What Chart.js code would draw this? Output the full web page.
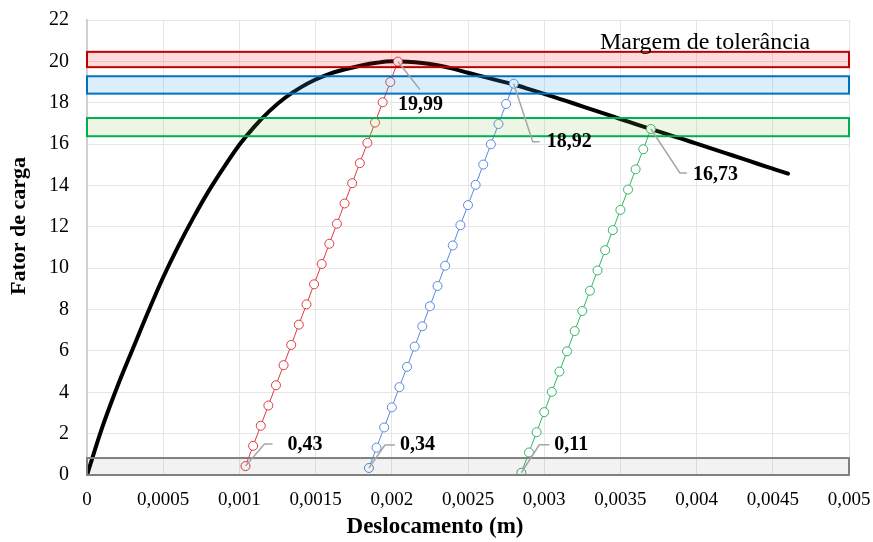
<!DOCTYPE html>
<html lang="pt">
<head>
  <meta charset="UTF-8">
  <title>Fator de carga x Deslocamento</title>
  <script src="https://cdn.jsdelivr.net/npm/chart.js@4.4.0/dist/chart.umd.min.js"></script>
  <style>
    body { margin: 0; background: #fff; }
  </style>
</head>
<body>
  <canvas id="grafico" width="873" height="542"></canvas>

  <script>
    // curva principal (preta)
    const curveX = [0, 0.0001, 0.0002, 0.0003, 0.0004, 0.0005, 0.0006, 0.0007, 0.0008, 0.0009,
      0.001, 0.0011, 0.0012, 0.0013, 0.0014, 0.0015, 0.0016, 0.0017, 0.0018, 0.0019,
      0.002, 0.0021, 0.0022, 0.0023, 0.0024, 0.0025, 0.0026, 0.0027, 0.0028, 0.0029,
      0.003, 0.0031, 0.0032, 0.0033, 0.0034, 0.0035, 0.0036, 0.0037, 0.0038, 0.0039,
      0.004, 0.0041, 0.0042, 0.0043, 0.0044, 0.0045, 0.0046];
    const curveY = [0, 2.3, 4.29, 6.09, 7.87, 9.56, 11.08, 12.47, 13.75, 14.9,
      15.97, 16.86, 17.62, 18.24, 18.73, 19.12, 19.42, 19.63, 19.8, 19.93,
      20.0, 19.98, 19.92, 19.81, 19.65, 19.45, 19.26, 19.07, 18.88, 18.66,
      18.43, 18.19, 17.95, 17.7, 17.46, 17.21, 16.97, 16.73, 16.49, 16.26,
      16.02, 15.78, 15.54, 15.3, 15.05, 14.81, 14.57];

    // descarregamentos
    const redX = [0.00104, 0.00109, 0.00114, 0.00119, 0.00124, 0.00129, 0.00134, 0.00139, 0.00144, 0.00149,
      0.00154, 0.00159, 0.00164, 0.00169, 0.00174, 0.00179, 0.00184, 0.00189, 0.00194, 0.00199, 0.00204];
    const redY = [0.43, 1.41, 2.38, 3.36, 4.34, 5.31, 6.29, 7.27, 8.25, 9.22,
      10.2, 11.18, 12.15, 13.13, 14.11, 15.08, 16.06, 17.04, 18.02, 19.0, 19.99];

    const blueX = [0.00185, 0.0019, 0.00195, 0.002, 0.00205, 0.0021, 0.00215, 0.0022, 0.00225, 0.0023,
      0.00235, 0.0024, 0.00245, 0.0025, 0.00255, 0.0026, 0.00265, 0.0027, 0.00275, 0.0028];
    const blueY = [0.34, 1.32, 2.3, 3.27, 4.25, 5.23, 6.21, 7.19, 8.16, 9.14,
      10.12, 11.1, 12.08, 13.05, 14.03, 15.01, 15.99, 16.97, 17.94, 18.92];

    const greenX = [0.00285, 0.0029, 0.00295, 0.003, 0.00305, 0.0031, 0.00315, 0.0032, 0.00325, 0.0033,
      0.00335, 0.0034, 0.00345, 0.0035, 0.00355, 0.0036, 0.00365, 0.0037];
    const greenY = [0.11, 1.09, 2.07, 3.04, 4.02, 5.0, 5.98, 6.96, 7.93, 8.91,
      9.89, 10.87, 11.84, 12.82, 13.8, 14.78, 15.75, 16.73];

    const xTickLabels = ['0', '0,0005', '0,001', '0,0015', '0,002', '0,0025', '0,003', '0,0035', '0,004', '0,0045', '0,005'];

    // faixas da margem de tolerância
    const bandLow = [19.72, 18.44, 16.38, 0];
    const bandHigh = [20.46, 19.28, 17.26, 0.82];

    const pointLabels = ['19,99', '18,92', '16,73', '0,43', '0,34', '0,11'];

    const serif = "'Liberation Serif', 'Times New Roman', serif";

    function pts(xs, ys) {
      return xs.map((x, i) => ({ x: x, y: ys[i] }));
    }

    const bandStyle = [
      { fill: 'rgba(255, 40, 50, 0.17)', line: '#c00000' },
      { fill: 'rgba(60, 170, 235, 0.19)', line: '#0070c0' },
      { fill: 'rgba(130, 190, 70, 0.14)', line: '#00b050' },
      { fill: 'rgba(0, 0, 0, 0.05)', line: '#808080' }
    ];

    const extras = {
      id: 'extras',
      afterDatasetsDraw(chart) {
        const ctx = chart.ctx;
        const xs = chart.scales.x, ys = chart.scales.y;
        ctx.save();

        // faixas
        bandLow.forEach((lo, i) => {
          const x0 = xs.getPixelForValue(0);
          const x1 = xs.getPixelForValue(0.005);
          const y0 = ys.getPixelForValue(bandHigh[i]);
          const y1 = ys.getPixelForValue(lo);
          ctx.fillStyle = bandStyle[i].fill;
          ctx.fillRect(x0, y0, x1 - x0, y1 - y0);
          ctx.strokeStyle = bandStyle[i].line;
          ctx.lineWidth = 2;
          ctx.strokeRect(x0, y0, x1 - x0, y1 - y0);
        });

        ctx.fillStyle = '#000';
        ctx.font = '24px ' + serif;
        ctx.textBaseline = 'alphabetic';
        ctx.fillText('Margem de tolerância', 600, 49);

        // rótulos com linha de chamada
        const anchors = [
          { x: redX[redX.length - 1], y: redY[redY.length - 1], dx: 22, dy: 28, h: 0, tx: 0, ty: 43 },
          { x: blueX[blueX.length - 1], y: blueY[blueY.length - 1], dx: 19, dy: 58, h: 7, tx: 7, ty: 0 },
          { x: greenX[greenX.length - 1], y: greenY[greenY.length - 1], dx: 29, dy: 44, h: 7, tx: 6, ty: 2 },
          { x: redX[0], y: redY[0], dx: 19, dy: -22, h: 8, tx: 15, ty: 1 },
          { x: blueX[0], y: blueY[0], dx: 16, dy: -23, h: 10, tx: 5, ty: 0 },
          { x: greenX[0], y: greenY[0], dx: 18, dy: -28, h: 10, tx: 5, ty: 0 }
        ];
        ctx.font = 'bold 20px ' + serif;
        ctx.textBaseline = 'middle';
        anchors.forEach((a, i) => {
          const px = xs.getPixelForValue(a.x);
          const py = ys.getPixelForValue(a.y);
          ctx.strokeStyle = '#a6a6a6';
          ctx.lineWidth = 1.5;
          ctx.beginPath();
          ctx.moveTo(px, py);
          ctx.lineTo(px + a.dx, py + a.dy);
          ctx.lineTo(px + a.dx + a.h, py + a.dy);
          ctx.stroke();
          ctx.fillStyle = '#000';
          if (a.h === 0) {
            ctx.fillText(pointLabels[i], px + a.tx, py + a.ty);
          } else {
            ctx.fillText(pointLabels[i], px + a.dx + a.h + a.tx, py + a.dy + a.ty);
          }
        });

        // títulos dos eixos
        ctx.font = 'bold 23px ' + serif;
        ctx.textAlign = 'center';
        ctx.fillText('Deslocamento (m)', 435, 527);
        ctx.font = 'bold 22px ' + serif;
        ctx.translate(19, 226);
        ctx.rotate(-Math.PI / 2);
        ctx.fillText('Fator de carga', 0, 0);
        ctx.restore();
      }
    };

    function serie(data, cor) {
      return {
        data: data,
        showLine: true,
        borderColor: cor,
        borderWidth: 1,
        pointRadius: 4.5,
        pointBackgroundColor: '#fff',
        pointBorderColor: cor,
        pointBorderWidth: 1,
        order: 1
      };
    }

    new Chart(document.getElementById('grafico'), {
      type: 'scatter',
      data: {
        datasets: [
          serie(pts(redX, redY), '#de3b40'),
          serie(pts(blueX, blueY), '#5a88dc'),
          serie(pts(greenX, greenY), '#34b466'),
          {
            data: pts(curveX, curveY),
            showLine: true,
            borderColor: '#000',
            borderWidth: 4,
            borderCapStyle: 'round',
            cubicInterpolationMode: 'monotone',
            pointRadius: 0,
            order: 2
          }
        ]
      },
      options: {
        responsive: false,
        animation: false,
        events: [],
        layout: { padding: { left: 0, right: 24, top: 20, bottom: 0 } },
        plugins: { legend: { display: false }, tooltip: { enabled: false } },
        scales: {
          x: {
            type: 'linear',
            min: 0,
            max: 0.005,
            afterFit(scale) {
              scale.height = 67;
              scale.paddingLeft = 0;
              scale.paddingRight = 0;
            },
            grid: { color: '#e6e6e6', drawTicks: false },
            border: { color: '#d9d9d9' },
            ticks: {
              stepSize: 0.0005,
              autoSkip: false,
              maxRotation: 0,
              padding: 14,
              color: '#000',
              font: { family: serif, size: 19 },
              callback: (v, i) => xTickLabels[i]
            }
          },
          y: {
            min: 0,
            max: 22,
            afterFit(scale) {
              scale.width = 87;
              scale.paddingTop = 0;
              scale.paddingBottom = 0;
            },
            grid: { color: '#e6e6e6', drawTicks: false },
            border: { color: '#d0d0d0', width: 2 },
            ticks: {
              stepSize: 2,
              padding: 18,
              color: '#000',
              font: { family: serif, size: 20 }
            }
          }
        }
      },
      plugins: [extras]
    });
  </script>
</body>
</html>
